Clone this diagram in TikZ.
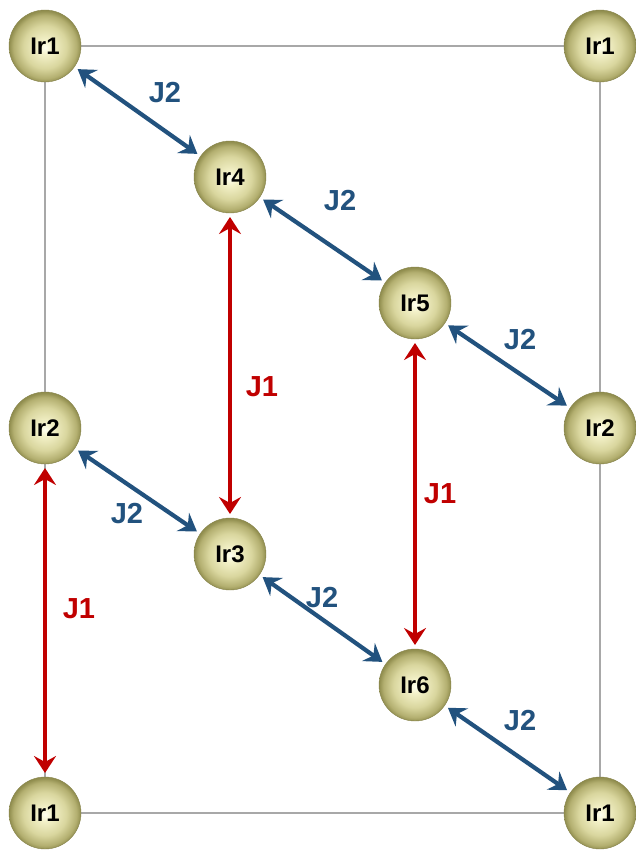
\documentclass[tikz,border=0pt]{standalone}
\usepackage{fontspec}
\setmainfont{Liberation Sans}
\usetikzlibrary{arrows.meta}
\definecolor{jblue}{HTML}{22527E}
\definecolor{jred}{HTML}{C00000}
\definecolor{cellgray}{HTML}{A8A8A8}
\definecolor{irA}{HTML}{FFFFF0}
\definecolor{irB}{HTML}{F3F1C8}
\definecolor{irC}{HTML}{D9D69E}
\definecolor{irD}{HTML}{B3AF70}
\definecolor{irE}{HTML}{908D4E}
\definecolor{irEdge}{HTML}{85824A}
\pgfdeclareradialshading{irsphere}{\pgfpoint{0bp}{-1bp}}{color(0bp)=(irA); color(5bp)=(irB); color(15bp)=(irC); color(22bp)=(irD); color(25bp)=(irE); color(50bp)=(irE)}
\begin{document}
\begin{tikzpicture}[x=1pt,y=-1pt,
  ir/.style={circle, minimum size=72pt, inner sep=0pt, outer sep=4pt, shading=irsphere, draw=irEdge, line width=0.4pt, text=black, font=\bfseries\fontsize{24}{24}\selectfont},
  cellline/.style={cellgray, line width=1.2pt},
  jtwo/.style={jblue, line width=4.2pt, {Stealth[length=17pt,width=22pt,inset=6pt]}-{Stealth[length=17pt,width=22pt,inset=6pt]}},
  jone/.style={jred, line width=4.2pt, {Stealth[length=17pt,width=22pt,inset=6pt]}-{Stealth[length=17pt,width=22pt,inset=6pt]}},
  jtwolbl/.style={text=jblue, font=\bfseries\fontsize{29}{29}\selectfont},
  jonelbl/.style={text=jred, font=\bfseries\fontsize{29}{29}\selectfont}]
\useasboundingbox (0,0) rectangle (636,851);
% cell outline
\coordinate (tl) at (45,46);
\coordinate (tr) at (600,46);
\coordinate (bl) at (45,813);
\coordinate (br) at (600,813);
\draw[cellline] (tl) -- (tr) -- (br) -- (bl) -- cycle;
% spheres
\node[ir] (a1) at (45,46) {Ir1};
\node[ir] (a2) at (600,46) {Ir1};
\node[ir] (r4) at (230,177) {Ir4};
\node[ir] (r5) at (415,303) {Ir5};
\node[ir] (l2) at (45,428) {Ir2};
\node[ir] (q2) at (600,428) {Ir2};
\node[ir] (r3) at (230,554) {Ir3};
\node[ir] (r6) at (415,685) {Ir6};
\node[ir] (b1) at (45,813) {Ir1};
\node[ir] (b2) at (600,813) {Ir1};
% J2 bonds
\draw[jtwo] (a1) -- (r4);
\draw[jtwo] (r4) -- (r5);
\draw[jtwo] (r5) -- (q2);
\draw[jtwo] (l2) -- (r3);
\draw[jtwo] (r3) -- (r6);
\draw[jtwo] (r6) -- (b2);
% J1 bonds
\draw[jone] (r4) -- (r3);
\draw[jone] (r5) -- (r6);
\draw[jone] (l2) -- (b1);
% labels
\node[jtwolbl] (t1) at (165,93) {J2};
\node[jtwolbl] (t2) at (340,201) {J2};
\node[jtwolbl] (t3) at (520,340) {J2};
\node[jtwolbl] (t4) at (127,514) {J2};
\node[jtwolbl] (t5) at (322,598) {J2};
\node[jtwolbl] (t6) at (520,721) {J2};
\node[jonelbl] (u1) at (262,387) {J1};
\node[jonelbl] (u2) at (440,494) {J1};
\node[jonelbl] (u3) at (79,609) {J1};
\end{tikzpicture}
\end{document}
